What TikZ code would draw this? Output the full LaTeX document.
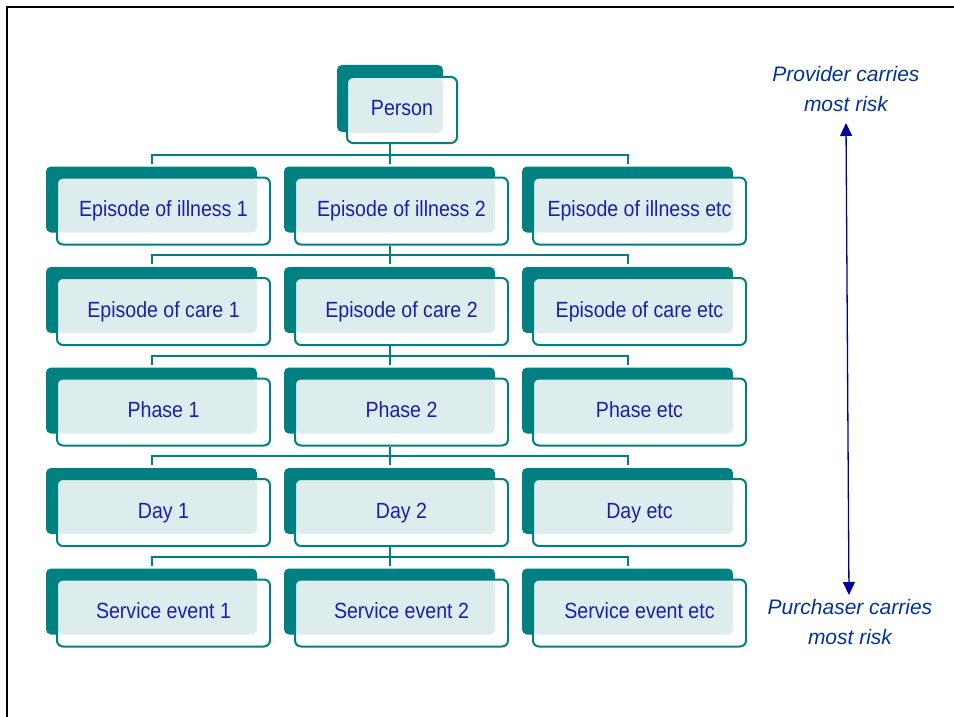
\documentclass[tikz,border=0pt]{standalone}
\usepackage{fontspec}
\setmainfont{Liberation Sans}
\newfontfamily\boxfont[FakeStretch=0.89]{Liberation Sans}
\usetikzlibrary{arrows.meta,calc}
\definecolor{tealc}{RGB}{0,128,128}
\definecolor{patc}{RGB}{221,237,237}
\definecolor{boxtext}{RGB}{30,30,170}
\definecolor{labtext}{RGB}{0,51,153}
\definecolor{arrowc}{RGB}{0,0,153}
\tikzset{
  frontbox/.style={draw=tealc, line width=2pt, fill=white, rounded corners=6pt,
    minimum width=213pt, minimum height=67pt, inner sep=0pt, text=boxtext,
    font=\boxfont\fontsize{22}{26}\selectfont, text height=16pt, text depth=5pt,
    path picture={\fill[patc] (path picture bounding box.north west) rectangle
      ($(path picture bounding box.north west)+(200pt,-55pt)$);}},
  personbox/.style={frontbox, minimum width=110pt, minimum height=66pt,
    path picture={\fill[patc] (path picture bounding box.north west) rectangle
      ($(path picture bounding box.north west)+(96pt,-56pt)$);}},
  darkbox/.style={fill=tealc, rounded corners=5pt},
  conn/.style={draw=tealc, line width=2pt},
  framestyle/.style={draw=black, line width=2pt},
  risklabel/.style={text=labtext, font=\itshape\fontsize{21}{30}\selectfont, align=center, inner sep=0pt},
  riskarrow/.style={draw=arrowc, line width=1.3pt,
    {Triangle[width=12pt,length=13pt]}-{Triangle[width=12pt,length=13pt]}}
}
\newcommand\cbox[4]{%
  \fill[darkbox] (#2-117.5,#3-44.5) rectangle (#2+93.5,#3+21.5);
  \node[frontbox] (#1) at (#2,#3) {#4};
  \coordinate (#1-top) at (#2-12,#3-47.5);
}
\begin{document}
\begin{tikzpicture}[x=1pt,y=-1pt]
\useasboundingbox (0,0) rectangle (954,717);
\draw[framestyle] (7,717) -- (7,7) -- (954,7);

% Person
\fill[darkbox] (337,65) rectangle (443,132);
\node[personbox] (p) at (402,110) {Person};

\cbox{a1}{163.5}{211}{Episode of illness 1}
\cbox{a2}{401.5}{211}{Episode of illness 2}
\cbox{a3}{639.5}{211}{Episode of illness etc}

\cbox{b1}{163.5}{311.5}{Episode of care 1}
\cbox{b2}{401.5}{311.5}{Episode of care 2}
\cbox{b3}{639.5}{311.5}{Episode of care etc}

\cbox{c1}{163.5}{412}{Phase 1}
\cbox{c2}{401.5}{412}{Phase 2}
\cbox{c3}{639.5}{412}{Phase etc}

\cbox{d1}{163.5}{512.5}{Day 1}
\cbox{d2}{401.5}{512.5}{Day 2}
\cbox{d3}{639.5}{512.5}{Day etc}

\cbox{e1}{163.5}{613}{Service event 1}
\cbox{e2}{401.5}{613}{Service event 2}
\cbox{e3}{639.5}{613}{Service event etc}

% connectors
\draw[conn] (p.south -| a2-top) -- (a2-top);
\draw[conn] (a1-top) -- ++(0,-9) -| (a3-top);
\draw[conn] (a2.south -| b2-top) -- (b2-top);
\draw[conn] (b1-top) -- ++(0,-9) -| (b3-top);
\draw[conn] (b2.south -| c2-top) -- (c2-top);
\draw[conn] (c1-top) -- ++(0,-9) -| (c3-top);
\draw[conn] (c2.south -| d2-top) -- (d2-top);
\draw[conn] (d1-top) -- ++(0,-9) -| (d3-top);
\draw[conn] (d2.south -| e2-top) -- (e2-top);
\draw[conn] (e1-top) -- ++(0,-9) -| (e3-top);

% risk labels
\node[risklabel] (prov) at (846,89) {Provider carries\\most risk};
\node[risklabel] (purch) at (850,622) {Purchaser carries\\most risk};
\coordinate (atop) at (846,123);
\coordinate (abot) at (849,595);
\draw[riskarrow] (atop) -- (abot);
\end{tikzpicture}
\end{document}
